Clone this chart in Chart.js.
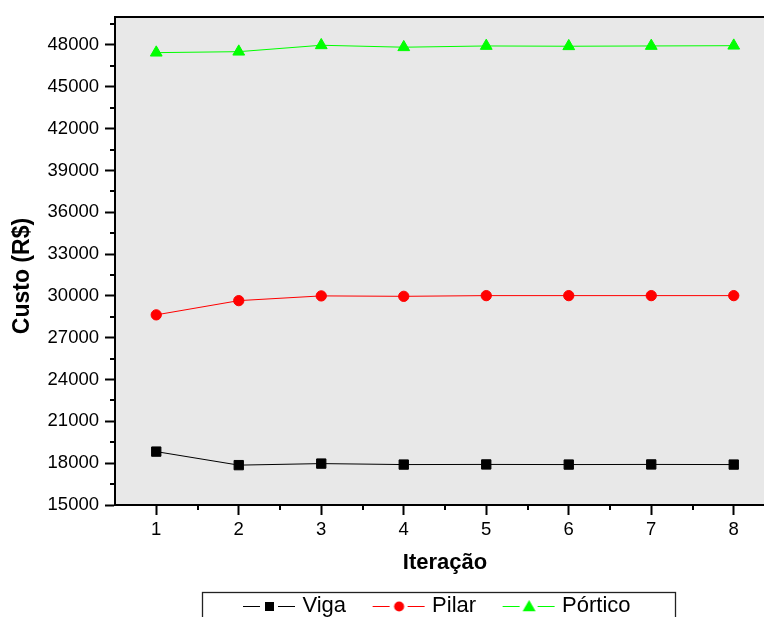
<!DOCTYPE html>
<html>
<head>
<meta charset="utf-8">
<script src="https://cdn.jsdelivr.net/npm/chart.js@4.4.1/dist/chart.umd.min.js"></script>
<style>
  html, body { margin: 0; padding: 0; background: #fff; overflow: hidden; width: 764px; height: 617px; }
  canvas { display: block; }
</style>
</head>
<body>
<canvas id="c" width="857" height="640"></canvas>
<script>
// Iterations on the x axis
const iteracoes = [1, 2, 3, 4, 5, 6, 7, 8];

// Cost per iteration (R$)
const viga    = [18830, 17860, 17970, 17900, 17910, 17900, 17910, 17900];
const pilar   = [28640, 29660, 30000, 29970, 30020, 30020, 30020, 30020];
const portico = [47450, 47520, 47980, 47840, 47930, 47910, 47930, 47950];

// Axis tick labels
const yTicks = [15000, 18000, 21000, 24000, 27000, 30000, 33000, 36000, 39000, 42000, 45000, 48000];
const xTicks = iteracoes;

const seriesNames = ['Viga', 'Pilar', 'Pórtico'];
const seriesColors = ['#000000', '#ff0000', '#00ff00'];
const seriesStyles = ['rect', 'circle', 'triangle'];

const yTitle = 'Custo (R$)';
const xTitle = 'Iteração';

const FONT = "'Liberation Sans', Arial, Helvetica, sans-serif";

function toPoints(values) {
  return iteracoes.map((x, i) => ({ x: x, y: values[i] }));
}

// Small marker path used for the legend samples
function drawMarker(g, style, cx, cy, size) {
  g.beginPath();
  if (style === 'rect') {
    g.rect(cx - size / 2, cy - size / 2, size, size);
  } else if (style === 'circle') {
    g.arc(cx, cy, size / 2, 0, Math.PI * 2);
  } else {
    const r = size / Math.sqrt(3);
    g.moveTo(cx, cy - r);
    g.lineTo(cx + size / 2, cy + r / 2);
    g.lineTo(cx - size / 2, cy + r / 2);
    g.closePath();
  }
  g.fill();
}

// Legend sample: line - marker - line
function legendSample(color, style) {
  const c = document.createElement('canvas');
  c.width = 74; c.height = 22;
  const g = c.getContext('2d');
  g.strokeStyle = color;
  g.fillStyle = color;
  g.lineWidth = 1;
  g.beginPath();
  g.moveTo(21, 11.5); g.lineTo(38, 11.5);
  g.moveTo(56, 11.5); g.lineTo(73, 11.5);
  g.stroke();
  const size = style === 'rect' ? 9 : (style === 'circle' ? 10 : 13);
  drawMarker(g, style, 47.5, style === 'triangle' ? 12.5 : 11.5, size);
  return c;
}
const legendSamples = seriesStyles.map((s, i) => legendSample(seriesColors[i], s));

// Plot background, top frame line, minor ticks, y title and legend frame
const frame = {
  id: 'frame',
  beforeDraw(chart) {
    const a = chart.chartArea, ctx = chart.ctx;
    ctx.save();
    ctx.fillStyle = '#e8e8e8';
    ctx.fillRect(a.left, a.top, a.right - a.left, a.bottom - a.top);
    ctx.restore();
  },
  afterDraw(chart) {
    const a = chart.chartArea, ctx = chart.ctx;
    const xs = chart.scales.x, ys = chart.scales.y;
    ctx.save();
    ctx.strokeStyle = '#000';
    ctx.lineWidth = 2;
    ctx.beginPath();
    ctx.moveTo(a.left - 1, a.top);
    ctx.lineTo(a.right + 1, a.top);
    ctx.stroke();
    ctx.beginPath();
    yTicks.forEach(v => {
      const y = Math.round(ys.getPixelForValue(v + 1500));
      ctx.moveTo(a.left - 5, y); ctx.lineTo(a.left, y);
    });
    xTicks.forEach(v => {
      const x = Math.round(xs.getPixelForValue(v + 0.5));
      ctx.moveTo(x, a.bottom); ctx.lineTo(x, a.bottom + 5);
    });
    ctx.stroke();

    // vertical axis title
    ctx.save();
    ctx.translate(23, a.top + (a.bottom - a.top) / 2 + 15);
    ctx.rotate(-Math.PI / 2);
    ctx.fillStyle = '#000';
    ctx.font = "bold 23px " + FONT;
    ctx.textAlign = 'center';
    ctx.textBaseline = 'middle';
    ctx.fillText(yTitle, 0, 0);
    ctx.restore();

    const hb = chart.legend.legendHitBoxes;
    if (hb && hb.length) {
      const first = hb[0], last = hb[hb.length - 1];
      const left = Math.round(first.left + 17 - 41) + 0.5;
      const right = Math.round(last.left + last.width + 44) + 0.5;
      const cy = first.top + first.height / 2;
      ctx.lineWidth = 1.3;
      ctx.strokeStyle = '#222';
      ctx.strokeRect(left, Math.round(cy - 14) + 0.5, right - left, 28);
    }
    ctx.restore();
  }
};

const datasets = [viga, pilar, portico].map((vals, i) => ({
  label: seriesNames[i],
  data: toPoints(vals),
  borderColor: seriesColors[i],
  backgroundColor: seriesColors[i],
  borderWidth: 1,
  pointStyle: seriesStyles[i],
  pointRadius: [6.6, 5.15, 6.8][i],
  pointBorderWidth: 1,
  pointBorderColor: seriesColors[i],
  pointBackgroundColor: seriesColors[i],
  tension: 0,
  fill: false
}));

new Chart(document.getElementById('c'), {
  type: 'line',
  data: { datasets },
  plugins: [frame],
  options: {
    responsive: false,
    animation: false,
    events: [],
    layout: { padding: { left: 0, right: 0, top: 15, bottom: 13 } },
    plugins: {
      tooltip: { enabled: false },
      legend: {
        display: true,
        position: 'bottom',
        labels: {
          usePointStyle: true,
          pointStyleWidth: 65,
          padding: 10,
          color: '#000',
          font: { family: FONT, size: 22 },
          generateLabels(chart) {
            const items = Chart.defaults.plugins.legend.labels.generateLabels(chart);
            items.forEach(it => { it.pointStyle = legendSamples[it.datasetIndex]; });
            return items;
          }
        }
      }
    },
    scales: {
      x: {
        type: 'linear',
        min: 0.5,
        max: 8.5,
        afterBuildTicks(s) { s.ticks = xTicks.map(v => ({ value: v })); },
        afterFit(s) { s.height = 80; },
        ticks: { color: '#000', padding: 3.5, font: { family: FONT, size: 18.5 }, maxRotation: 0, autoSkip: false,
                 callback: v => String(v) },
        grid: { display: true, drawOnChartArea: false, drawTicks: true, tickLength: 10, tickWidth: 2, tickColor: '#000' },
        border: { display: true, color: '#000', width: 2 },
        title: { display: true, text: xTitle, color: '#000', font: { family: FONT, size: 22, weight: 'bold' }, padding: { top: 0, bottom: 8.8 } }
      },
      y: {
        type: 'linear',
        position: 'left',
        min: 15000,
        max: 50000,
        afterBuildTicks(s) { s.ticks = yTicks.map(v => ({ value: v })); },
        afterFit(s) { s.width = 115; },
        ticks: { color: '#000', padding: 6, font: { family: FONT, size: 18.5 }, autoSkip: false,
                 callback: v => String(v) },
        grid: { display: true, drawOnChartArea: false, drawTicks: true, tickLength: 10, tickWidth: 2, tickColor: '#000' },
        border: { display: true, color: '#000', width: 2 },
        title: { display: false }
      },
      y2: {
        type: 'linear',
        position: 'right',
        min: 15000,
        max: 50000,
        afterFit(s) { s.width = 82; },
        ticks: { display: false },
        grid: { display: false, drawTicks: false },
        border: { display: true, color: '#000', width: 2 }
      }
    }
  }
});
</script>
</body>
</html>
